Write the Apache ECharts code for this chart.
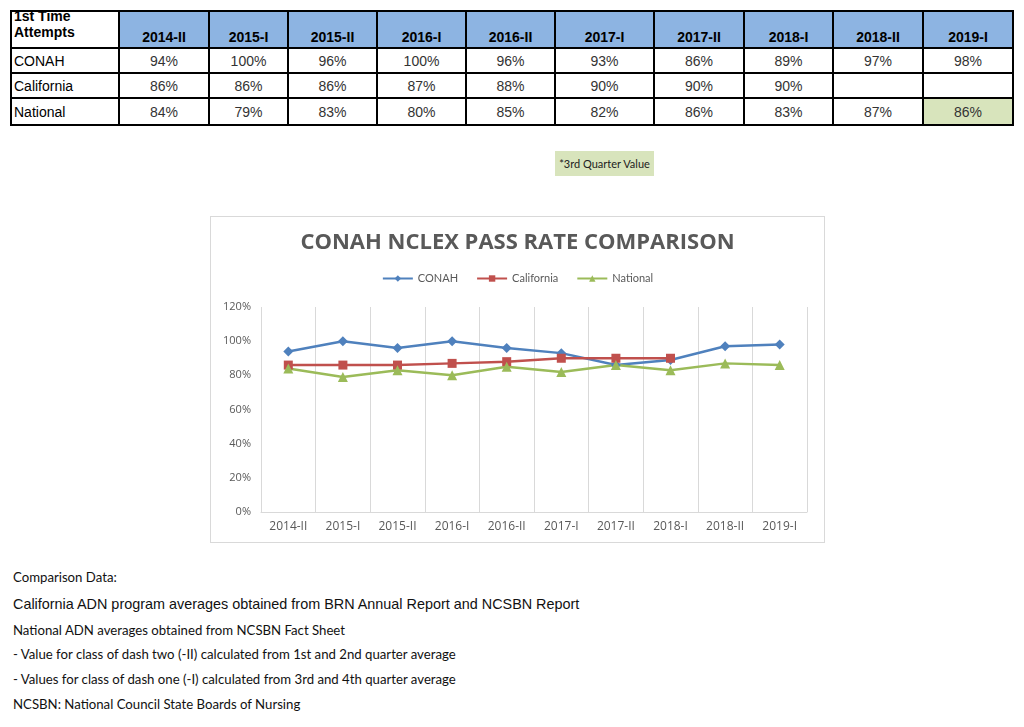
<!DOCTYPE html>
<html>
<head>
<meta charset="utf-8">
<script src="https://cdn.jsdelivr.net/npm/echarts@6/dist/echarts.min.js"></script>
<style>
  html, body { margin: 0; padding: 0; background: #fff; }
  body { width: 1024px; height: 727px; position: relative; overflow: hidden; }
  #tbl { position: absolute; left: 10px; top: 10px; border-collapse: collapse; table-layout: fixed;
         font-family: "Liberation Sans", Arial, sans-serif; font-size: 14px; }
  #tbl td { border: 2px solid #000; padding: 0; text-align: center; color: #333; white-space: nowrap; }
  #tbl tr.h td { background: #8DB4E2; color: #000; font-weight: bold; vertical-align: bottom; padding-bottom: 2px; height: 33px; }
  #tbl tr.h td.corner { background: #fff; text-align: left; vertical-align: top; padding: 0 0 0 2px; }
  #tbl tr.h td.corner div { line-height: 16px; font-size: 14px; margin-top: -4px; height: 33px; }
  #tbl td.lab { text-align: left; padding-left: 2px; color: #000; }
  #tbl td.hl { background: #D8E4BC; }
  #note { position: absolute; left: 555px; top: 151px; width: 99px; height: 25px; background: #D8E4BC;
          font-family: Lato, sans-serif; font-size: 11px; line-height: 25px; text-align: center; color: #222; }
  #box { position: absolute; left: 210px; top: 216px; width: 615px; height: 327px; border: 1px solid #D9D9D9; box-sizing: border-box; }
  #chart { width: 613px; height: 325px; }
  .t { position: absolute; left: 13px; white-space: nowrap; color: #111; }
  .c { font-family: Lato, sans-serif; font-size: 13.2px; }
  .a { font-family: "Liberation Sans", Arial, sans-serif; font-size: 14.4px; }
</style>
</head>
<body>
<table id="tbl"></table>
<div id="note">*3rd Quarter Value</div>
<div id="box"><div id="chart"></div></div>
<div class="t c" style="top:569px">Comparison Data:</div>
<div class="t a" style="top:596px">California ADN program averages obtained from BRN Annual Report and NCSBN Report</div>
<div class="t c" style="top:622px">National ADN averages obtained from NCSBN Fact Sheet</div>
<div class="t c" style="top:646px">- Value for class of dash two (-II) calculated from 1st and 2nd quarter average</div>
<div class="t c" style="top:671px">- Values for class of dash one (-I) calculated from 3rd and 4th quarter average</div>
<div class="t c" style="top:696px">NCSBN: National Council State Boards of Nursing</div>
<script>
const categories = ['2014-II', '2015-I', '2015-II', '2016-I', '2016-II', '2017-I', '2017-II', '2018-I', '2018-II', '2019-I'];
const conah = [94, 100, 96, 100, 96, 93, 86, 89, 97, 98];
const california = [86, 86, 86, 87, 88, 90, 90, 90, null, null];
const national = [84, 79, 83, 80, 85, 82, 86, 83, 87, 86];
const seriesNames = ['CONAH', 'California', 'National'];
const yTickValues = [0, 20, 40, 60, 80, 100, 120];

// Table
const colWidths = [108, 90, 79, 89, 89, 89, 99, 90, 89, 90, 90];
const rowHeights = [37, 25, 25, 27];
const tbl = document.getElementById('tbl');
let html = '<colgroup>' + colWidths.map(w => '<col style="width:' + w + 'px">').join('') + '</colgroup>';
html += '<tr class="h"><td class="corner"><div>1st Time<br>Attempts</div></td>' + categories.map(c => '<td>' + c + '</td>').join('') + '</tr>';
const rows = [conah, california, national];
rows.forEach((arr, ri) => {
  html += '<tr style="height:' + rowHeights[ri + 1] + 'px"><td class="lab">' + seriesNames[ri] + '</td>';
  arr.forEach((v, ci) => {
    const hl = (ri === 2 && ci === arr.length - 1) ? ' class="hl"' : '';
    html += '<td' + hl + '>' + (v == null ? '' : v + '%') + '</td>';
  });
  html += '</tr>';
});
tbl.innerHTML = html;

// Chart
const chart = echarts.init(document.getElementById('chart'), null, { renderer: 'canvas' });
const txt = '#595959';
const fam = 'Lato, sans-serif';
const axFam = '"Open Sans", sans-serif';
chart.setOption({
  animation: false,
  textStyle: { fontFamily: fam },
  title: {
    text: 'CONAH NCLEX PASS RATE COMPARISON',
    left: 'center', top: 10,
    textStyle: { fontFamily: axFam, fontSize: 22, fontWeight: 'bold', color: txt }
  },
  legend: {
    data: seriesNames, top: 51, left: 'center',
    itemWidth: 30, itemHeight: 8, itemGap: 18,
    textStyle: { color: txt, fontSize: 11, fontFamily: fam }
  },
  grid: { left: 50, right: 17, top: 90, bottom: 30, containLabel: false },
  xAxis: {
    type: 'category', data: categories, boundaryGap: true,
    axisLine: { show: true, lineStyle: { color: '#D9D9D9' } },
    axisTick: { show: false },
    splitLine: { show: true, lineStyle: { color: '#D9D9D9' } },
    axisLabel: { color: txt, fontSize: 12, fontFamily: axFam, margin: 9, interval: 0 }
  },
  yAxis: {
    type: 'value', min: yTickValues[0], max: yTickValues[yTickValues.length - 1], interval: 20,
    axisLine: { show: false }, axisTick: { show: false },
    splitLine: { show: false },
    axisLabel: { color: txt, fontSize: 11, fontFamily: axFam, formatter: '{value}%', margin: 10 }
  },
  series: [
    { name: 'CONAH', type: 'line', data: conah, symbol: 'diamond', symbolSize: 10,
      lineStyle: { width: 2.5, color: '#4F81BD' }, itemStyle: { color: '#4F81BD' } },
    { name: 'California', type: 'line', data: california, symbol: 'rect', symbolSize: 9,
      lineStyle: { width: 2.5, color: '#C0504D' }, itemStyle: { color: '#C0504D' } },
    { name: 'National', type: 'line', data: national, symbol: 'triangle', symbolSize: 10,
      lineStyle: { width: 2.5, color: '#9BBB59' }, itemStyle: { color: '#9BBB59' } }
  ]
});
</script>
</body>
</html>
